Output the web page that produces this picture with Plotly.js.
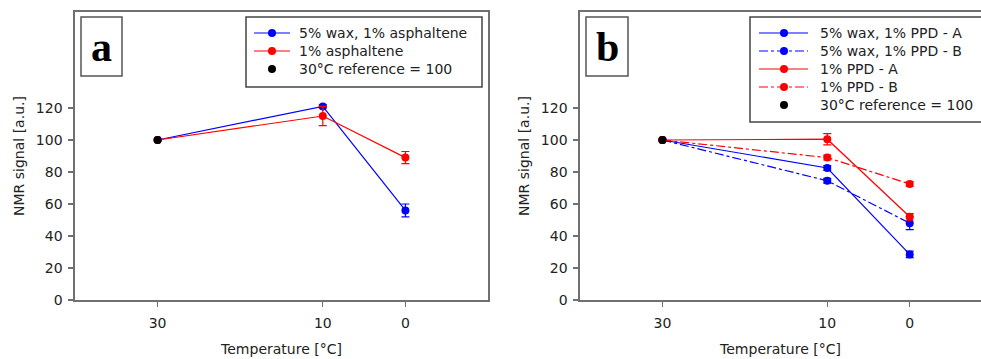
<!DOCTYPE html>
<html>
<head>
<meta charset="utf-8">
<script src="https://cdn.plot.ly/plotly-3.0.1.min.js"></script>
<style>html,body{margin:0;padding:0;background:#fff;}#chart{width:981px;height:359px;}</style>
</head>
<body>
<div id="chart"></div>
<script>
// ---- data ----
const temps = [30, 10, 0];
const tickTemps = [30, 10, 0];
const yTicks = [0, 20, 40, 60, 80, 100, 120];

// panel a
const waxAsph = [100, 121, 56];
const waxAsphErr = [0, 1, 4];
const asph = [100, 115, 89];
const asphErr = [0, 6, 3.8];
const refTemp = [30];
const refVal = [100];

// panel b
const waxPPDA = [100, 82.5, 28.5];
const waxPPDAErr = [0, 1.5, 2];
const waxPPDB = [100, 74.5, 48];
const waxPPDBErr = [0, 1.5, 4];
const ppdA = [100, 100.5, 52];
const ppdAErr = [0, 3.5, 2];
const ppdB = [100, 89, 72.5];
const ppdBErr = [0, 1.5, 1.5];

const namesA = ['5% wax, 1% asphaltene', '1% asphaltene', '30°C reference = 100'];
const namesB = ['5% wax, 1% PPD - A', '5% wax, 1% PPD - B', '1% PPD - A', '1% PPD - B', '30°C reference = 100'];

const BLUE = '#0000ff', RED = '#ff0000';
const W = 981, H = 359;
const px = v => v / W;
const py = v => (H - v) / H;

function series(x, y, err, color, dash, name, xa, ya) {
  return {
    x: x, y: y, type: 'scatter', mode: 'lines+markers', name: name,
    xaxis: xa, yaxis: ya,
    line: {color: color, width: 1.2, dash: dash},
    marker: {color: color, size: 8},
    error_y: {type: 'data', array: err, visible: true, color: color, thickness: 1.2, width: 4}
  };
}
function refTrace(xa, ya, name) {
  return {
    x: refTemp, y: refVal, type: 'scatter', mode: 'markers', name: name,
    xaxis: xa, yaxis: ya,
    marker: {color: '#000', size: 8}
  };
}

const data = [
  series(temps, waxAsph, waxAsphErr, BLUE, 'solid', namesA[0], 'x', 'y'),
  series(temps, asph, asphErr, RED, 'solid', namesA[1], 'x', 'y'),
  refTrace('x', 'y', namesA[2]),
  series(temps, waxPPDA, waxPPDAErr, BLUE, 'solid', namesB[0], 'x2', 'y2'),
  series(temps, waxPPDB, waxPPDBErr, BLUE, 'dashdot', namesB[1], 'x2', 'y2'),
  series(temps, ppdA, ppdAErr, RED, 'solid', namesB[2], 'x2', 'y2'),
  series(temps, ppdB, ppdBErr, RED, 'dashdot', namesB[3], 'x2', 'y2'),
  refTrace('x2', 'y2', namesB[4])
];

const FONT = {family: 'DejaVu Sans', size: 14, color: '#222'};
const LINE = '#707070';

function xAxis(domain, range, anchor, mirror) {
  return {
    domain: domain, range: range, anchor: anchor,
    tickvals: tickTemps, ticktext: tickTemps.map(String),
    ticks: 'outside', ticklen: 5, tickwidth: 1.2, tickcolor: LINE,
    ticklabelstandoff: 5,
    showline: true, linecolor: LINE, linewidth: 1.6, mirror: mirror,
    showgrid: false, zeroline: false,
    tickfont: FONT,
    title: {text: 'Temperature [°C]', font: FONT, standoff: 14}
  };
}
function yAxis(anchor, mirror) {
  return {
    domain: [py(300), py(12)], range: [0, 180], anchor: anchor,
    tickvals: yTicks,
    ticks: 'outside', ticklen: 5, tickwidth: 1.2, tickcolor: LINE,
    ticklabelstandoff: 3,
    showline: true, linecolor: LINE, linewidth: 1.6, mirror: mirror,
    showgrid: false, zeroline: false,
    tickfont: FONT,
    title: {text: 'NMR signal [a.u.]', font: FONT, standoff: 8}
  };
}

// ---- hand-drawn legends (decoration built from the trace names / styles) ----
const shapes = [
  {type: 'rect', xref: 'paper', yref: 'paper', x0: px(81), x1: px(122), y0: py(76), y1: py(17),
   line: {color: '#555', width: 1.5}, fillcolor: '#fff'},
  {type: 'rect', xref: 'paper', yref: 'paper', x0: px(586), x1: px(628), y0: py(76), y1: py(17),
   line: {color: '#555', width: 1.5}, fillcolor: '#fff'},
  {type: 'rect', xref: 'paper', yref: 'paper', x0: px(246), x1: px(482), y0: py(87), y1: py(17),
   line: {color: '#444', width: 1.5}, fillcolor: '#fff'},
  {type: 'rect', xref: 'paper', yref: 'paper', x0: px(750), x1: px(995), y0: py(122), y1: py(17),
   line: {color: '#444', width: 1.5}, fillcolor: '#fff'}
];
const annotations = [
  {xref: 'paper', yref: 'paper', x: px(101.5), y: py(47), text: '<b>a</b>', showarrow: false,
   xanchor: 'center', yanchor: 'middle', font: {family: 'Liberation Serif', size: 42, color: '#000'}},
  {xref: 'paper', yref: 'paper', x: px(607), y: py(47), text: '<b>b</b>', showarrow: false,
   xanchor: 'center', yanchor: 'middle', font: {family: 'Liberation Serif', size: 42, color: '#000'}}
];
function addLegend(traces, lx0, lx1, mx, tx, y0, dy) {
  traces.forEach((t, i) => {
    const y = y0 + i * dy;
    if (t.mode.indexOf('lines') >= 0) {
      shapes.push({type: 'line', xref: 'paper', yref: 'paper', x0: px(lx0), x1: px(lx1), y0: py(y), y1: py(y),
        line: {color: t.line.color, width: t.line.width, dash: t.line.dash}});
    }
    shapes.push({type: 'circle', xref: 'paper', yref: 'paper', x0: px(mx - 4), x1: px(mx + 4),
      y0: py(y + 4), y1: py(y - 4), line: {color: t.marker.color, width: 0}, fillcolor: t.marker.color});
    annotations.push({xref: 'paper', yref: 'paper', x: px(tx), y: py(y), text: t.name, showarrow: false,
      xanchor: 'left', yanchor: 'middle', font: FONT});
  });
}
addLegend(data.slice(0, 3), 254, 290, 272, 297, 33, 18);
addLegend(data.slice(3), 759, 808, 784, 818, 33, 18);

const layout = {
  width: W, height: H,
  margin: {l: 0, r: 0, t: 0, b: 0},
  paper_bgcolor: '#fff', plot_bgcolor: '#fff',
  font: FONT,
  showlegend: false,
  xaxis: xAxis([px(75), px(488)], [40, -10], 'y', true),
  yaxis: yAxis('x', true),
  xaxis2: xAxis([px(580), 1], [40, -8.65], 'y2', true),
  yaxis2: yAxis('x2', false),
  shapes: shapes,
  annotations: annotations
};

Plotly.newPlot('chart', data, layout, {displayModeBar: false, staticPlot: true});
</script>
</body>
</html>
